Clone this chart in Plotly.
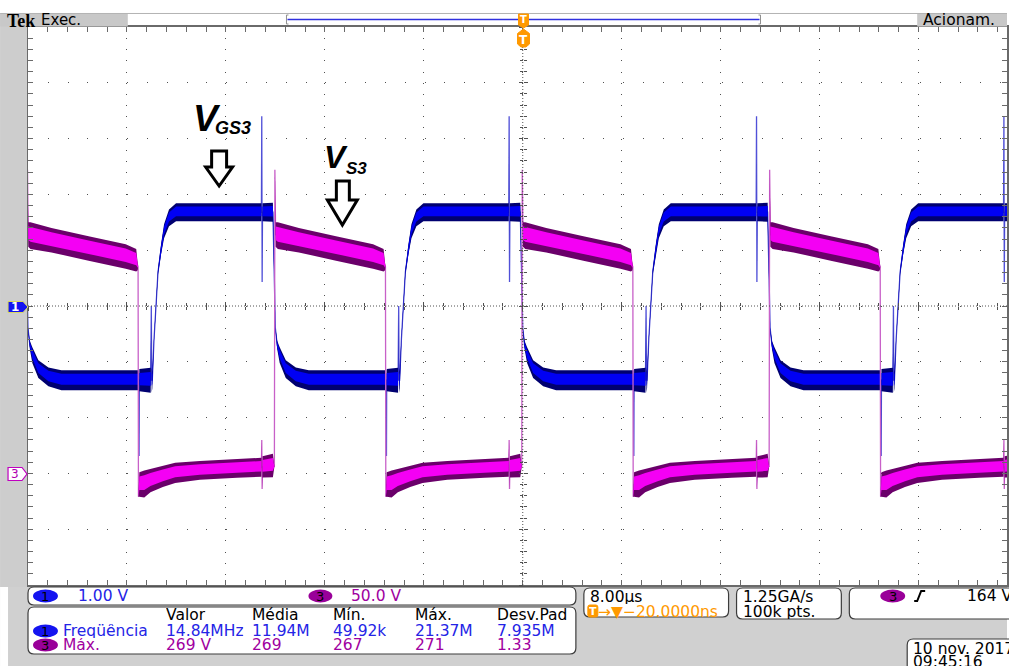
import numpy as np
import plotly.graph_objects as go

# ---------------- data ----------------
# screen: 10 div x 8 us/div, trigger at centre (t = 0)
X_RANGE_US = [-40.0, 39.15]          # visible part of the record (right edge cut by the window)
CH1_RANGE_V = [-5.0, 5.0]            # CH1: 1.00 V/div, ground at centre
CH3_RANGE_V = [-100.0, 400.0]        # CH3: 50.0 V/div, ground 3 div below centre

# start time (us) of each switching cycle = falling edge of V_S3
CYCLE_STARTS_US = [-51.1, -31.1, -11.1, 8.9, 28.9]

# one cycle of V_GS3 (channel 1): time from cycle start (us), level (V), noise band p-p (V)
CH1_TAU = [0.0, 0.06, 0.08, 0.10, 1.02, 1.07, 1.10, 1.15, 1.29, 1.45, 1.61, 1.86, 2.10,
           2.50, 3.07, 9.97, 10.0, 10.03, 10.06, 10.9, 11.0, 11.1, 11.25, 11.45, 11.94,
           12.75, 13.8]
CH1_V = [-1.33, -1.33, -2.69, -1.33, -1.33, 0.0, -1.33, -1.33, -0.59, 0.0, 0.61, 1.02, 1.34,
         1.58, 1.68, 1.68, 3.4, 0.43, 1.68, 1.68, 0.4, -0.4, -0.7, -0.88, -1.13,
         -1.27, -1.33]
CH1_NOISE = [0.36, 0.36, 0.0, 0.40, 0.45, 0.0, 0.45, 0.30, 0.06, 0.06, 0.10, 0.18, 0.25,
             0.30, 0.32, 0.32, 0.0, 0.0, 0.32, 0.34, 0.04, 0.04, 0.15, 0.28, 0.32,
             0.34, 0.36]

# one cycle of V_S3 (channel 3)
CH3_TAU = [0.0, 0.03, 0.10, 0.5, 1.0, 2.0, 3.0, 5.0, 8.0, 9.97, 10.0, 10.03, 10.06, 10.9,
           11.02, 11.06, 11.12, 11.3, 13.0, 16.0, 19.0, 19.85, 19.97]
CH3_V = [185, -21, -10, -9.5, -6.5, -2.7, 0.5, 2.7, 4.5, 5.5, 30, -14, 5.8, 7.0,
         6.0, 272, 214, 213, 209, 201.6, 194.4, 191, 186]
CH3_NOISE = [0, 0, 22, 24, 21, 19, 18, 17, 17, 17, 0, 0, 19, 21,
             0, 0, 22, 24, 22, 22, 22, 20, 8]

# on-screen readouts
CH_SCALES = ["1.00 V", "50.0 V"]
MEAS_HEADERS = ["Valor", "Média", "Mín.", "Máx.", "Desv.Pad"]
MEAS_ROW1 = ["Freqüência", "14.84MHz", "11.94M", "49.92k", "21.37M", "7.935M"]
MEAS_ROW3 = ["Máx.", "269 V", "269", "267", "271", "1.33"]
TIMEBASE = ["8.00µs", "\u2192\u25bc\u221220.0000ns"]
ACQ = ["1.25GA/s", "100k pts."]
TRIG_LEVEL = "164 V"
DATE = ["10 nov. 2017", "09:45:16"]

# ---------------- geometry helpers ----------------
W, H = 1009, 666
L, T, PW, PH = 28, 27, 981, 558


def px(x):
    return (x - L) / PW


def py(y):
    return (T + PH - y) / PH


def build(starts, tau, v, n):
    t, vv, nn = [], [], []
    for s in starts:
        for a, b, c in zip(tau, v, n):
            t.append(s + a)
            vv.append(b)
            nn.append(c)
    return np.array(t), np.array(vv), np.array(nn)


def band(t, v, n, k, shift=0.0):
    x = np.concatenate([t, t[::-1]])
    c = v + shift * n
    y = np.concatenate([c + k * n / 2, (c - k * n / 2)[::-1]])
    return x, y


fig = go.Figure()

BLUE_LINE, BLUE_DARK, BLUE_CORE = "#5050d8", "#000070", "#0000f4"
MAG_LINE, MAG_DARK, MAG_CORE = "#c860c8", "#6a006a", "#f400f4"

t3, v3, n3 = build(CYCLE_STARTS_US, CH3_TAU, CH3_V, CH3_NOISE)
t1, v1, n1 = build(CYCLE_STARTS_US, CH1_TAU, CH1_V, CH1_NOISE)

for (t, v, n, yax, cl, cd, cc) in [
    (t3, v3, n3, "y2", MAG_LINE, MAG_DARK, MAG_CORE),
    (t1, v1, n1, "y", BLUE_LINE, BLUE_DARK, BLUE_CORE),
]:
    fig.add_trace(go.Scatter(x=t, y=v, mode="lines", yaxis=yax,
                             line=dict(color=cl, width=1.3), hoverinfo="skip",
                             showlegend=False))
    bx, by = band(t, v, n, 1.0)
    fig.add_trace(go.Scatter(x=bx, y=by, mode="lines", fill="toself", fillcolor=cd,
                             yaxis=yax, line=dict(width=0), hoverinfo="skip",
                             showlegend=False))
    bx, by = band(t, v, n, 0.55, shift=0.05)
    fig.add_trace(go.Scatter(x=bx, y=by, mode="lines", fill="toself", fillcolor=cc,
                             yaxis=yax, line=dict(width=0), hoverinfo="skip",
                             showlegend=False))

# dummy traces so the centre-tick axes are drawn
for xa, ya in [("x3", "y"), ("x4", "y"), ("x", "y3"), ("x", "y4")]:
    fig.add_trace(go.Scatter(x=[None], y=[None], xaxis=xa, yaxis=ya,
                             showlegend=False, hoverinfo="skip"))

GRID = "#505050"
BORDER = "#6a6a6a"
xfrac0 = (0 - X_RANGE_US[0]) / (X_RANGE_US[1] - X_RANGE_US[0])

common_x = dict(range=X_RANGE_US, showticklabels=False, zeroline=False, fixedrange=True)
common_y = dict(range=CH1_RANGE_V, showticklabels=False, zeroline=False, fixedrange=True)

fig.update_layout(
    width=W, height=H,
    margin=dict(l=L, r=0, t=T, b=H - T - PH),
    paper_bgcolor="white", plot_bgcolor="white",
    showlegend=False,
    xaxis=dict(**common_x, domain=[0, 1], showgrid=True, gridcolor=GRID, gridwidth=1,
               griddash="1px,10.16px", dtick=8, tick0=0,
               showline=True, linecolor=BORDER, linewidth=2, mirror="allticks",
               ticks="inside", ticklen=5, tickcolor=BORDER, tickwidth=1,
               minor=dict(dtick=1.6, ticks="inside", ticklen=3, tickcolor=BORDER)),
    yaxis=dict(**common_y, domain=[0, 1], showgrid=True, gridcolor=GRID, gridwidth=1,
               griddash="1px,18.83px", dtick=1, tick0=0,
               showline=True, linecolor=BORDER, linewidth=2, mirror="allticks",
               ticks="inside", ticklen=5, tickcolor=BORDER, tickwidth=1,
               minor=dict(dtick=0.2, ticks="inside", ticklen=3, tickcolor=BORDER)),
    yaxis2=dict(range=CH3_RANGE_V, overlaying="y", visible=False, fixedrange=True),
    xaxis3=dict(**common_x, overlaying="x", anchor="free", position=0.5, showgrid=False,
                showline=False, dtick=8, tick0=0, ticks="outside", ticklen=4,
                tickcolor=GRID, minor=dict(dtick=1.6, ticks="outside", ticklen=3,
                                           tickcolor=GRID)),
    xaxis4=dict(**common_x, overlaying="x", anchor="free", position=0.5, showgrid=False,
                showline=False, dtick=8, tick0=0, ticks="inside", ticklen=4,
                tickcolor=GRID, minor=dict(dtick=1.6, ticks="inside", ticklen=3,
                                           tickcolor=GRID)),
    yaxis3=dict(**common_y, overlaying="y", anchor="free", position=xfrac0, showgrid=False,
                showline=False, dtick=1, tick0=0, ticks="outside", ticklen=4,
                tickcolor=GRID, minor=dict(dtick=0.2, ticks="outside", ticklen=3,
                                           tickcolor=GRID)),
    yaxis4=dict(**common_y, overlaying="y", anchor="free", position=xfrac0, showgrid=False,
                showline=False, dtick=1, tick0=0, ticks="inside", ticklen=4,
                tickcolor=GRID, minor=dict(dtick=0.2, ticks="inside", ticklen=3,
                                           tickcolor=GRID)),
)

shapes = []
annots = []


def rect(x0, y0, x1, y1, fill, line=None, lw=0, layer="above"):
    shapes.append(dict(type="rect", xref="paper", yref="paper", x0=px(x0), x1=px(x1),
                       y0=py(y1), y1=py(y0), fillcolor=fill, layer=layer,
                       line=dict(color=line or fill, width=lw)))


def pline(pts, color, width=1, dash=None, fill=None, close=False):
    d = "M " + " L ".join(f"{px(a):.6f},{py(b):.6f}" for a, b in pts)
    if close:
        d += " Z"
    s = dict(type="path", xref="paper", yref="paper", path=d,
             line=dict(color=color, width=width))
    if dash:
        s["line"]["dash"] = dash
    if fill:
        s["fillcolor"] = fill
    shapes.append(s)


def rrect(x0, y0, x1, y1, r, fill="white", color="#3c3c3c", width=1.2):
    d = (f"M {px(x0 + r)},{py(y0)} L {px(x1 - r)},{py(y0)} "
         f"Q {px(x1)},{py(y0)} {px(x1)},{py(y0 + r)} L {px(x1)},{py(y1 - r)} "
         f"Q {px(x1)},{py(y1)} {px(x1 - r)},{py(y1)} L {px(x0 + r)},{py(y1)} "
         f"Q {px(x0)},{py(y1)} {px(x0)},{py(y1 - r)} L {px(x0)},{py(y0 + r)} "
         f"Q {px(x0)},{py(y0)} {px(x0 + r)},{py(y0)} Z")
    shapes.append(dict(type="path", xref="paper", yref="paper", path=d, fillcolor=fill,
                       line=dict(color=color, width=width)))


def pill(x0, y0, x1, y1, fill):
    shapes.append(dict(type="circle", xref="paper", yref="paper", x0=px(x0), x1=px(x1),
                       y0=py(y1), y1=py(y0), fillcolor=fill, line=dict(color=fill, width=0)))


def text(x, y, s, color="black", size=15, anchor="left", family="DejaVu Sans",
         bold=False, italic=False, height=None):
    a = dict(x=px(x), y=py(y), xref="paper", yref="paper", text=s,
             showarrow=False, xanchor=anchor, yanchor="middle",
             font=dict(family=family, size=size, color=color,
                       weight="bold" if bold else "normal",
                       style="italic" if italic else "normal"),
             borderpad=0)
    if height:
        a["height"] = height
        a["valign"] = "middle"
    annots.append(a)


GRAY = "#cdcdcd"
# left bar and bottom panel background
rect(0, 14, 27, 587, GRAY)
rect(0, 587, 1009, 666, "#d0d0d0")
rect(0, 587, 8, 666, "white")
# top status line
pline([(0, 13.5), (1009, 13.5)], "#b4b4b4", 1)
rect(0, 14, 128, 26.5, "#c8c8c8")
rect(919, 14, 1009, 26.5, "#c8c8c8")
pline([(289, 15), (287, 15), (287, 24), (289, 24)], "#909090", 1)
pline([(760, 15), (762, 15), (762, 24), (760, 24)], "#909090", 1)
pline([(288, 19.5), (761, 19.5)], "#3030e0", 1.5)
text(6, 20.5, "Tek", "black", 18, family="Liberation Serif", bold=True)
text(40, 20, "Exec.", "black", 15)
text(924, 20, "Acionam.", "black", 15.5)

# centre graticule (dense dotted)
shapes.append(dict(type="line", xref="paper", yref="paper", x0=0, x1=1, y0=0.5, y1=0.5,
                   line=dict(color=GRID, width=1, dash="1px,2px")))
shapes.append(dict(type="line", xref="paper", yref="paper", x0=xfrac0, x1=xfrac0, y0=0,
                   y1=1, line=dict(color=GRID, width=1, dash="1px,2px")))

# trigger position marker
pline([(519.5, 14), (529.5, 14), (529.5, 25), (524.5, 28), (519.5, 25)], "#ff9900", 1,
      fill="#ff9900", close=True)
pline([(518.5, 33.5), (524.5, 29), (530.5, 33.5), (530.5, 44), (527, 47), (522, 47),
       (518.5, 44)], "#ff9900", 1, fill="#ff9900", close=True)
text(524.5, 20, "T", "white", 10, anchor="center", bold=True)
text(524.5, 39.5, "T", "white", 12, anchor="center", bold=True)

# channel ground markers
pline([(8, 301.5), (23, 301.5), (28, 307), (23, 312.5), (8, 312.5)], "#d8d860", 1,
      fill="#1414f0", close=True)
text(15, 307, "1", "white", 12, anchor="center", bold=True)
pline([(8, 467.5), (22, 467.5), (27, 474), (22, 480.5), (8, 480.5)], "#c000c0", 1.2,
      fill="white", close=True)
text(15, 474, "3", "#b000b0", 12, anchor="center")

# annotation labels and hollow arrows
text(192, 118, "V", "black", 37, family="Liberation Sans", bold=True, italic=True)
text(214, 128, "GS3", "black", 18, family="Liberation Sans", bold=True, italic=True)
text(324, 157, "V", "black", 32, family="Liberation Sans", bold=True, italic=True)
text(346, 168, "S3", "black", 17, family="Liberation Sans", bold=True, italic=True)
pline([(212, 151), (227, 151), (227, 167), (233, 167), (219.5, 186), (206, 167),
       (212, 167)], "black", 3, fill="white", close=True)
pline([(337, 181), (350, 181), (350, 200), (358, 200), (343, 225), (328, 200),
       (337, 200)], "black", 3, fill="white", close=True)

# bottom readout boxes
BLUE_T = "#2424e6"
PURP_T = "#a000a0"
FS = 15.5
rrect(28, 587, 577, 605, 6)
pill(33, 589.5, 58, 602.5, "#1414f0")
text(45.5, 596, "1", "black", 13, anchor="center", height=13)
text(77, 596, CH_SCALES[0], BLUE_T, FS)
pill(309, 589.5, 333, 602.5, "#990099")
text(321, 596, "3", "black", 13, anchor="center", height=13)
text(351, 596, CH_SCALES[1], PURP_T, FS)

rrect(28, 607, 577, 654, 6)
cols = [165, 251, 333, 415, 497]
for c, h in zip(cols, MEAS_HEADERS):
    text(c, 615, h, "black", FS, height=16)
pill(33, 624.5, 58, 637.5, "#1414f0")
text(45.5, 631, "1", "black", 13, anchor="center", height=13)
pill(33, 638.5, 58, 651.5, "#990099")
text(45.5, 645, "3", "black", 13, anchor="center", height=13)
text(62, 631, MEAS_ROW1[0], BLUE_T, FS, height=14)
text(62, 645, MEAS_ROW3[0], PURP_T, FS, height=14)
for c, a, b in zip(cols, MEAS_ROW1[1:], MEAS_ROW3[1:]):
    text(c, 631, a, BLUE_T, FS, height=14)
    text(c, 645, b, PURP_T, FS, height=14)

rrect(585, 588, 730, 617, 6)
text(590, 596, TIMEBASE[0], "black", FS, height=15)
rrect(589, 605, 599, 617, 2, fill="#ff9900", color="#ff9900", width=1)
text(594, 611, "T", "white", 11, anchor="center", bold=True, height=12)
text(598, 611, TIMEBASE[1], "#ff9900", FS, height=15)

rrect(738, 588, 843, 619, 6)
text(743, 596, ACQ[0], "black", FS, height=15)
text(743, 611, ACQ[1], "black", FS, height=15)

rrect(851, 588, 1020, 619, 6)
pill(882, 589.5, 907, 602.5, "#990099")
text(894.5, 596, "3", "black", 13, anchor="center", height=13)
pline([(916, 601), (919, 601), (923, 591), (927, 591)], "black", 2)
text(968, 596, TRIG_LEVEL, "black", FS)

rrect(909, 639, 1020, 672, 6)
text(914, 648, DATE[0], "black", FS, height=13)
text(914, 661, DATE[1], "black", FS, height=13)

fig.update_layout(shapes=shapes, annotations=annots)
fig.write_html("out.html")
